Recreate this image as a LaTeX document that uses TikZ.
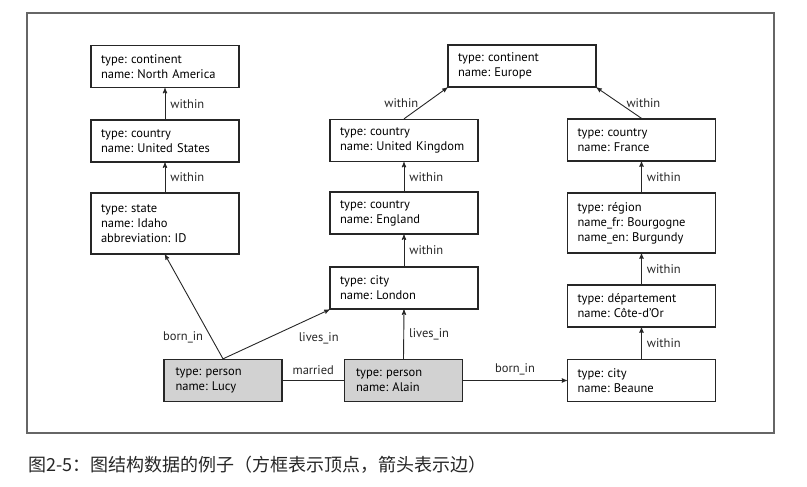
\documentclass[tikz,border=0pt]{standalone}
\usepackage{fontspec}
\setmainfont{PT Sans}
\newfontfamily\cjk{Noto Sans CJK SC}
\usetikzlibrary{arrows}
\frenchspacing
\hyphenpenalty=10000

\begin{document}
\begin{tikzpicture} [x=1pt, y=-1pt, font=\fontsize{12.5}{15}\selectfont,
 vertex/.style={draw=black!85, line width=1.3pt, text width=128pt, inner xsep=10pt, align=left, minimum height=42pt},
 person/.style={vertex, fill=gray!35, text width=95pt, inner xsep=11.5pt},
 edge/.style={black!85, line width=.9pt},
 lbl/.style={inner sep=5pt}]
\useasboundingbox (0,0) rectangle (807,487);
\draw[black!60, line width=1.2pt] (27,13) rectangle (774,433);
\node[vertex] (na) at (165,66.5) {type: continent\\name: North America};
\node[vertex] (us) at (165,141) {type: country\\name: United States};
\node[vertex, minimum height=61pt] (idaho) at (165,223.5) {type: state\\name: Idaho\\abbreviation: ID};
\node[vertex] (eu) at (522,66) {type: continent\\name: Europe};
\node[vertex] (uk) at (404,140.5) {type: country\\name: United Kingdom};
\node[vertex] (eng) at (404,213) {type: country\\name: England};
\node[vertex] (lon) at (404,288) {type: city\\name: London};
\node[vertex] (fr) at (641.5,140) {type: country\\name: France};
\node[vertex, minimum height=60pt] (bour) at (641.5,223) {type: région\\name\_fr: Bourgogne\\name\_en: Burgundy};
\node[vertex] (dep) at (641.5,306) {type: département\\name: Côte-d'Or};
\node[vertex] (beaune) at (641.5,380.5) {type: city\\name: Beaune};
\node[person] (lucy) at (223,380.5) {type: person\\name: Lucy};
\node[person] (alain) at (403.5,380.5) {type: person\\name: Alain};
\foreach \a/\b in {us/na, idaho/us, eng/uk, lon/eng, bour/fr, dep/bour, beaune/dep} {
 \draw[edge, ->, >=stealth'] (\a.north) -- (\b.south) node[lbl, midway, right] {within};
}
\draw[edge, ->, >=stealth'] (uk.north) -- (eu.south west) node[lbl, midway, left, xshift=-2pt] {within};
\draw[edge, ->, >=stealth'] (fr.north) -- (eu.south east) node[lbl, midway, right, xshift=2pt] {within};
\draw[edge, ->, >=stealth'] (lucy.north) -- (idaho.south) node[lbl, pos=.25, left, yshift=-5pt] {born\_in};
\draw[edge, ->, >=stealth'] (lucy.north) -- (lon.south west) node[lbl, pos=.9, below, yshift=-13pt] {lives\_in};
\draw[edge, ->, >=stealth'] (alain.north) -- (lon.south) node[lbl, midway, right] {lives\_in};
\draw[edge] (lucy.east) -- (alain.west) node[lbl, midway, above] {married};
\draw[edge, ->, >=stealth'] (alain.east) -- (beaune.west) node[lbl, midway, above] {born\_in};
\node[anchor=west, inner sep=0, font=\cjk\fontsize{18}{20}\selectfont, black!85] (cap) at (28,465) {图2-5：图结构数据的例子（方框表示顶点，箭头表示边）};
\end{tikzpicture}
\end{document}
